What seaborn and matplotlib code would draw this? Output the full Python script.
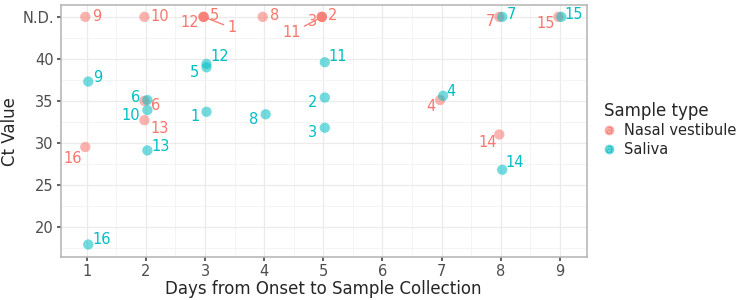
import matplotlib
matplotlib.use("Agg")
import matplotlib.pyplot as plt
import numpy as np
import pandas as pd
import seaborn as sns
from matplotlib.lines import Line2D
from matplotlib.ticker import MultipleLocator

# --- data (None = not detected) ---
patient_ids = list(range(1, 17))
nasal_day = [3, 5, 5, 7, 3, 2, 8, 4, 1, 2, 5, 3, 2, 8, 9, 1]
nasal_ct = [None, None, None, 35.1, None, 35.0, None, None,
            None, None, None, None, 32.7, 31.0, None, 29.5]
saliva_day = [3, 5, 5, 7, 3, 2, 8, 4, 1, 2, 5, 3, 2, 8, 9, 1]
saliva_ct = [33.7, 35.4, 31.8, 35.6, 39.0, 35.1, None, 33.4,
             37.3, 33.9, 39.6, 39.4, 29.1, 26.8, None, 17.9]
sample_types = ["Nasal vestibule", "Saliva"]
y_ticks = [20, 25, 30, 35, 40, 45]
y_tick_labels = ["20", "25", "30", "35", "40", "N.D."]
ND_VALUE = 45

# label placement (pixel offsets from each point), layout only
nasal_offsets = [(28, -11), (11, 1), (-9, -5), (-9, -6), (11, 1), (11, -5),
                 (-9, -5), (12, 1), (11, 0), (15, 0), (-30, -16), (-14, -6),
                 (15, -8), (-12, -8), (-13, -7), (-13, -11)]
saliva_offsets = [(-11, -5), (-12, -5), (-12, -5), (8, 4), (-12, -5), (-12, 3),
                  (9, 2), (-12, -5), (10, 4), (-17, -5), (13, 6), (13, 7),
                  (13, 4), (12, 7), (12, 2), (13, 5)]
segment_labels = {("Nasal vestibule", 1), ("Nasal vestibule", 11)}

PALETTE = {"Nasal vestibule": "#F8766D", "Saliva": "#00BFC4"}
DODGE = {"Nasal vestibule": -0.025, "Saliva": 0.025}


def build_frame() -> pd.DataFrame:
    rows = []
    for stype, days, cts, offs in [
        ("Nasal vestibule", nasal_day, nasal_ct, nasal_offsets),
        ("Saliva", saliva_day, saliva_ct, saliva_offsets),
    ]:
        for pid, d, ct, off in zip(patient_ids, days, cts, offs):
            rows.append({
                "patient": pid,
                "day": d + DODGE[stype],
                "ct": ND_VALUE if ct is None else ct,
                "Sample type": stype,
                "dx": off[0],
                "dy": off[1],
            })
    return pd.DataFrame(rows)


def plot(df: pd.DataFrame) -> None:
    sns.set_theme(style="white")
    plt.rcParams["font.family"] = ["DejaVu Sans"]
    fig, ax = plt.subplots(figsize=(7.5, 3), dpi=100)
    fig.subplots_adjust(left=0.081, right=0.782, top=0.983, bottom=0.143)

    sns.scatterplot(data=df, x="day", y="ct", hue="Sample type",
                    hue_order=sample_types, palette=PALETTE, s=55,
                    alpha=0.55, edgecolor="none", ax=ax, legend=False, zorder=3)

    for _, r in df.iterrows():
        color = PALETTE[r["Sample type"]]
        arrow = None
        if (r["Sample type"], r["patient"]) in segment_labels:
            arrow = dict(arrowstyle="-", color=color, lw=0.9,
                         shrinkA=0, shrinkB=3)
        ax.annotate(str(r["patient"]), (r["day"], r["ct"]),
                    xytext=(r["dx"], r["dy"]), textcoords="offset pixels",
                    ha="center", va="center", fontsize=10.5, color=color,
                    arrowprops=arrow, zorder=4)

    ax.set_xlim(0.56, 9.45)
    ax.set_ylim(16.4, 46.4)
    ax.set_xticks(range(1, 10))
    ax.set_yticks(y_ticks)
    ax.set_yticklabels(y_tick_labels)
    ax.xaxis.set_minor_locator(MultipleLocator(0.5))
    ax.yaxis.set_minor_locator(MultipleLocator(2.5))
    ax.grid(True, which="major", color="#EBEBEB", lw=0.9)
    ax.grid(True, which="minor", color="#F3F3F3", lw=0.6)
    ax.set_axisbelow(True)
    for sp in ax.spines.values():
        sp.set_color("#B3B3B3")
        sp.set_linewidth(1.1)
    ax.tick_params(axis="both", which="major", labelsize=10.5,
                   labelcolor="#4D4D4D", length=3, color="#4D4D4D",
                   direction="out", bottom=True, left=True, pad=2)
    ax.tick_params(which="minor", length=0)
    ax.set_xlabel("Days from Onset to Sample Collection", fontsize=12,
                  labelpad=1)
    ax.set_ylabel("Ct Value", fontsize=12, labelpad=2)

    handles = []
    for t in sample_types:
        dot = Line2D([], [], marker="o", ls="", markersize=7,
                     markerfacecolor=PALETTE[t], markeredgecolor="none",
                     alpha=0.6)
        letter = Line2D([], [], marker="$a$", ls="", markersize=5,
                        markerfacecolor=PALETTE[t], markeredgecolor="none",
                        alpha=0.8)
        handles.append((dot, letter))
    leg = fig.legend(handles=handles, labels=sample_types, title="Sample type",
                     loc="upper left", bbox_to_anchor=(0.797, 0.68),
                     frameon=False, fontsize=10.5, title_fontsize=12,
                     handlelength=0.8, handletextpad=0.6, labelspacing=0.25,
                     borderaxespad=0)
    leg._legend_box.align = "left"

    fig.savefig("out.png", dpi=100)
    plt.close(fig)


def main() -> None:
    plot(build_frame())


if __name__ == "__main__":
    main()
